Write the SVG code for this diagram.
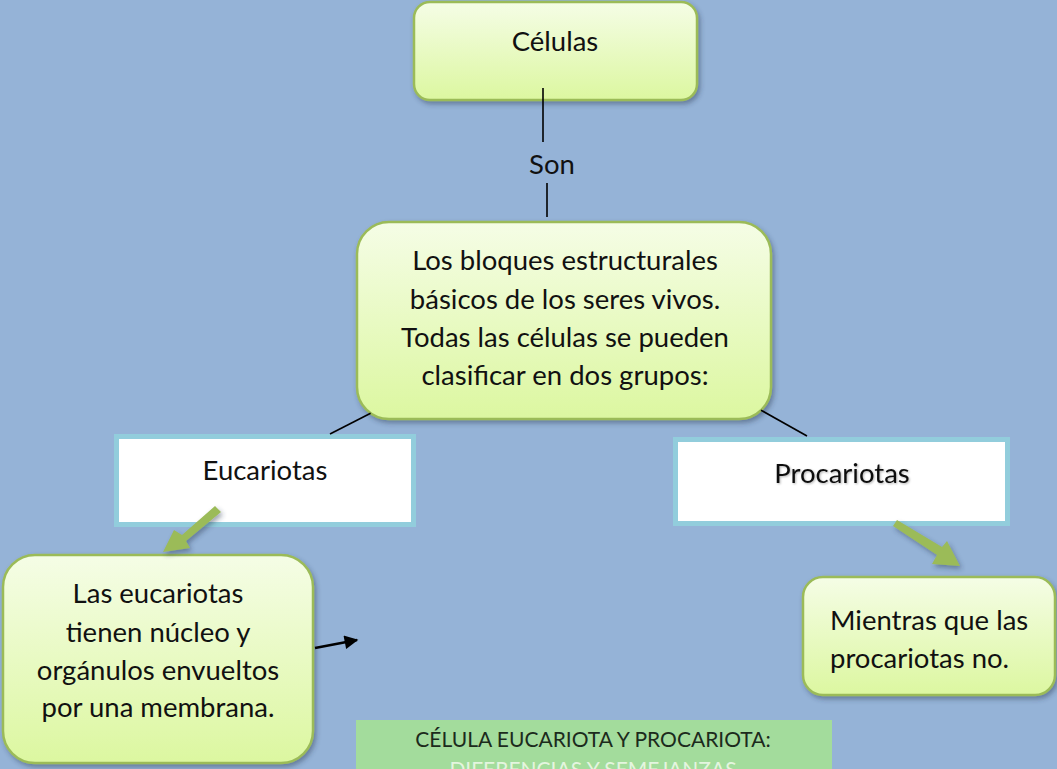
<svg xmlns="http://www.w3.org/2000/svg" width="1057" height="769" viewBox="0 0 1057 769">
<defs>
<linearGradient id="g" x1="0" y1="0" x2="0" y2="1">
<stop offset="0" stop-color="#f5fde6"/>
<stop offset="1" stop-color="#dcf7a0"/>
</linearGradient>
<filter id="sh" x="-10%" y="-10%" width="130%" height="130%">
<feDropShadow dx="2" dy="3" stdDeviation="2.5" flood-color="#2a3a55" flood-opacity="0.45"/>
</filter>
<filter id="tsh" x="-10%" y="-20%" width="130%" height="150%">
<feDropShadow dx="1" dy="1" stdDeviation="0.8" flood-color="#000" flood-opacity="0.3"/>
</filter>
<marker id="ah" viewBox="0 0 10 10" refX="9" refY="5" markerWidth="6" markerHeight="5.5" orient="auto" markerUnits="strokeWidth">
<path d="M0,0 L10,5 L0,10 Z" fill="#000"/>
</marker>
</defs>
<style>
.green{fill:url(#g);stroke:#9bbb59;stroke-width:2.5;filter:url(#sh)}
.white{fill:#fff;stroke:#92cddc;stroke-width:5}
.t{font-family:Lato,"Liberation Sans",sans-serif;font-size:27.5px;fill:#111;text-anchor:middle}
.ln{stroke:#000;stroke-width:1.6;fill:none}
.garrow{fill:#9bbb59;filter:url(#sh)}
.bn{font-family:Lato,"Liberation Sans",sans-serif;font-size:21px;text-anchor:middle}
</style>
<rect width="1057" height="769" fill="#95b3d7"/>

<g id="celulas">
<rect class="green" x="414" y="2" width="283" height="98" rx="16"/>
<text class="t" x="555" y="51">Células</text>
</g>

<g id="bloques">
<rect class="green" x="357" y="222" width="414" height="197" rx="32"/>
<text class="t" x="565" y="270">Los bloques estructurales</text>
<text class="t" x="565" y="309">básicos de los seres vivos.</text>
<text class="t" x="565" y="347">Todas las células se pueden</text>
<text class="t" x="565" y="385">clasificar en dos grupos:</text>
</g>

<g id="eucariotas">
<rect class="white" x="116.5" y="436.5" width="297" height="88"/>
<text class="t" x="265" y="480">Eucariotas</text>
</g>

<g id="procariotas">
<rect class="white" x="675.5" y="439.5" width="332" height="84"/>
<text class="t" x="842" y="483" filter="url(#tsh)">Procariotas</text>
</g>

<g id="eucariotas-desc">
<rect class="green" x="3" y="555" width="310" height="208" rx="32"/>
<text class="t" x="158" y="603">Las eucariotas</text>
<text class="t" x="158" y="642">tienen núcleo y</text>
<text class="t" x="158" y="680">orgánulos envueltos</text>
<text class="t" x="158" y="717">por una membrana.</text>
</g>

<g id="procariotas-desc">
<rect class="green" x="803" y="577" width="252" height="118" rx="20"/>
<text class="t" x="830" y="630" style="text-anchor:start">Mientras que las</text>
<text class="t" x="830" y="668" style="text-anchor:start">procariotas no.</text>
</g>

<g id="banner">
<rect x="356" y="720" width="476" height="49" fill="#a3dc9c"/>
<text class="bn" x="593" y="747" fill="#1c2b1c">CÉLULA EUCARIOTA Y PROCARIOTA:</text>
<text class="bn" x="593" y="777" fill="#e4f5df">DIFERENCIAS Y SEMEJANZAS</text>
</g>

<g id="connectors">
<line class="ln" x1="543" y1="88" x2="543" y2="142"/>
<text class="t" x="552" y="174">Son</text>
<line class="ln" x1="547" y1="183" x2="547" y2="217"/>
<line class="ln" x1="330" y1="434" x2="370.6" y2="413.2"/>
<line class="ln" x1="761" y1="410.2" x2="807" y2="436"/>
<line x1="315" y1="648" x2="357" y2="640" stroke="#000" stroke-width="2.5" marker-end="url(#ah)"/>
<polygon class="garrow" points="221,512 215,506 182,535 174,530 163,552 190,548 186,541"/>
<polygon class="garrow" points="893,526 897,520 942,547 947,541 960,566 932,564 937,555"/>
</g>
</svg>
